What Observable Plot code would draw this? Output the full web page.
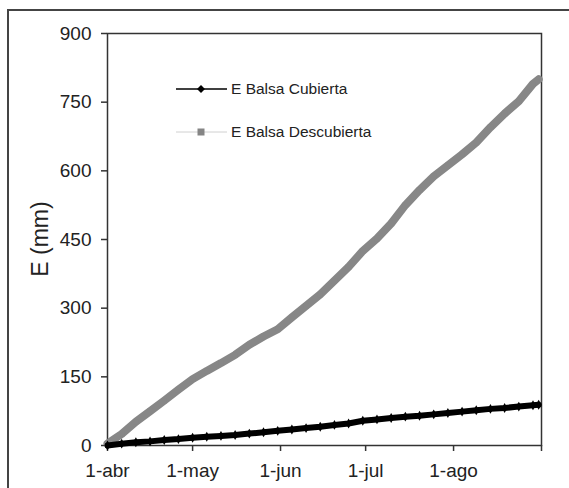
<!DOCTYPE html>
<html>
<head>
<meta charset="utf-8">
<script src="https://cdn.jsdelivr.net/npm/d3@7"></script>
<script src="https://cdn.jsdelivr.net/npm/@observablehq/plot@0.6"></script>
<style>
  html, body { margin: 0; padding: 0; background: #fff; overflow: hidden; }
  #wrap { position: relative; width: 569px; height: 488px; font-family: "Liberation Sans", Arial, sans-serif; }
  #outer { position: absolute; left: 7px; top: 9px; width: 700px; height: 700px; border-left: 2px solid #444; border-top: 2px solid #444; box-sizing: border-box; }
  #chart { position: absolute; left: 0; top: 0; }
  #legend { position: absolute; left: 0; top: 0; }
</style>
</head>
<body>
<div id="wrap">
  <div id="outer"></div>
  <div id="chart"></div>
  <svg id="legend" width="569" height="488"></svg>
</div>
<script>
// Day offsets from 1-abr
const dias = [0, 5, 10, 15, 20, 25, 30, 35, 40, 45, 50, 55, 60, 65, 70, 75, 80, 85, 90, 95, 100, 105, 110, 115, 120, 125, 130, 135, 140, 145, 150, 152];
// E Balsa Descubierta (mm)
const descubierta = [4, 25, 52, 75, 98, 122, 145, 163, 180, 198, 220, 238, 254, 280, 305, 330, 360, 390, 425, 452, 485, 525, 558, 588, 612, 636, 662, 695, 725, 752, 790, 800];
// E Balsa Cubierta (mm)
const cubierta = [0, 4, 7, 9, 12, 14, 17, 19, 21, 23, 26, 29, 32, 35, 38, 41, 45, 48, 54, 57, 60, 63, 65, 68, 71, 74, 77, 80, 82, 85, 88, 89];
const series = ["E Balsa Cubierta", "E Balsa Descubierta"];
const tickFechas = ["2006-04-01", "2006-05-01", "2006-06-01", "2006-07-01", "2006-08-01", "2006-09-01"];
const tickEtiquetas = ["1-abr", "1-may", "1-jun", "1-jul", "1-ago", ""];
const yTicks = [0, 150, 300, 450, 600, 750, 900];

const start = Date.UTC(2006, 3, 1);
const toDate = d => new Date(start + d * 86400000);
const dataDesc = dias.map((d, i) => ({date: toDate(d), v: descubierta[i]}));
const dataCub = dias.map((d, i) => ({date: toDate(d), v: cubierta[i]}));
const xt = tickFechas.map(s => new Date(s + "T00:00:00Z"));

const chart = Plot.plot({
  width: 569,
  height: 488,
  marginLeft: 107,
  marginRight: 28,
  marginTop: 33,
  marginBottom: 43,
  style: {fontFamily: "'Liberation Sans', Arial, sans-serif", fontSize: "19px", color: "#222", background: "transparent"},
  x: {type: "utc", domain: [xt[0], xt[xt.length - 1]], label: null},
  y: {domain: [0, 900], label: null},
  marks: [
    Plot.frame({stroke: "#333", strokeWidth: 1.5}),
    Plot.axisX({ticks: xt, tickFormat: (d, i) => tickEtiquetas[i], tickSize: 6, tickPadding: 12, stroke: "#333", strokeWidth: 1.5, fontSize: 19, label: null}),
    Plot.axisY({ticks: yTicks, tickSize: 6, tickPadding: 10, stroke: "#333", strokeWidth: 1.5, fontSize: 19, label: null}),
    Plot.line(dataDesc, {x: "date", y: "v", stroke: "#878787", strokeWidth: 8, strokeLinejoin: "round", strokeLinecap: "round"}),
    Plot.dot(dataDesc, {x: "date", y: "v", symbol: "square", r: 3, fill: "#878787"}),
    Plot.line(dataCub, {x: "date", y: "v", stroke: "#000", strokeWidth: 6, strokeLinejoin: "round", strokeLinecap: "round"}),
    Plot.dot(dataCub, {x: "date", y: "v", symbol: "diamond", r: 3, fill: "#000"})
  ]
});
document.getElementById("chart").appendChild(chart);

// Y axis title and legend overlay
const svg = d3.select("#legend");
svg.append("text")
  .attr("transform", "translate(48,239) rotate(-90)")
  .attr("text-anchor", "middle")
  .attr("font-family", "'Liberation Sans', Arial, sans-serif")
  .attr("font-size", 23)
  .attr("fill", "#222")
  .text("E (mm)");

const leg = [
  {name: series[0], y: 89, line: "#000", lw: 1.5, mark: "diamond", fill: "#000"},
  {name: series[1], y: 132, line: "#d0d0d0", lw: 1, mark: "square", fill: "#858585"}
];
leg.forEach(l => {
  svg.append("line").attr("x1", 176).attr("x2", 227).attr("y1", l.y).attr("y2", l.y)
    .attr("stroke", l.line).attr("stroke-width", l.lw);
  if (l.mark === "diamond") {
    svg.append("path").attr("d", d3.symbol(d3.symbolDiamond2, 40)()).attr("transform", `translate(201,${l.y})`).attr("fill", l.fill);
  } else {
    svg.append("rect").attr("x", 197.5).attr("y", l.y - 3.5).attr("width", 7).attr("height", 7).attr("fill", l.fill);
  }
  svg.append("text").attr("x", 231).attr("y", l.y).attr("dy", "0.35em")
    .attr("font-family", "'Liberation Sans', Arial, sans-serif").attr("font-size", 15.5).attr("fill", "#222")
    .text(l.name);
});
</script>
</body>
</html>
